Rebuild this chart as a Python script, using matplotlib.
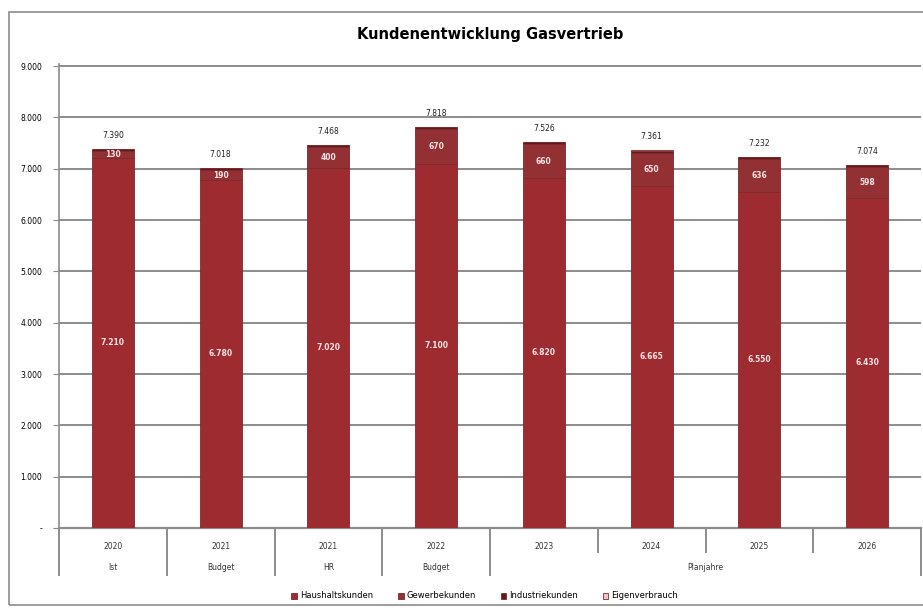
import matplotlib
matplotlib.use('Agg')
import matplotlib.pyplot as plt
import matplotlib.transforms as transforms
from matplotlib.patches import Rectangle
import numpy as np

# Kundenzahlen je Segment
jahre       = ["2020", "2021", "2021", "2022", "2023", "2024", "2025", "2026"]
art         = ["Ist", "Budget", "HR", "Budget"]
planLabel   = "Planjahre"
haushalt    = [7210, 6780, 7020, 7100, 6820, 6665, 6550, 6430]
gewerbe     = [130, 190, 400, 670, 660, 650, 636, 598]
industrie   = [40, 40, 40, 40, 38, 38, 38, 38]
eigen       = [10, 8, 8, 8, 8, 8, 8, 8]
serien      = ["Haushaltskunden", "Gewerbekunden", "Industriekunden", "Eigenverbrauch"]
farben      = ["#9E2B30", "#933034", "#5E1A1E", "#F2C4C6"]

def fmt(v):
    return "{:,}".format(int(v)).replace(",", ".")

fig = plt.figure(figsize=(9.23, 6.08), dpi=100)
ax  = fig.add_axes([59/923, 1-528/608, 862/923, (528-64)/608])

x = np.arange(len(jahre))
breite = 0.39
unten = np.zeros(len(jahre))
for werte, name, farbe in zip([haushalt, gewerbe, industrie, eigen], serien, farben):
    ax.bar(x, werte, breite, bottom=unten, color=farbe, label=name, zorder=3,
           edgecolor="#7E2A2C", linewidth=0.6)
    unten = unten + np.array(werte)

# Segmentbeschriftungen
for i in range(len(jahre)):
    ax.text(x[i], haushalt[i]/2, fmt(haushalt[i]), ha="center", va="center",
            fontsize=5.5, color="#FBE3E4", fontweight="bold", zorder=4)
    ax.text(x[i], haushalt[i] + gewerbe[i]/2, fmt(gewerbe[i]), ha="center", va="center",
            fontsize=5.5, color="#FBE3E4", fontweight="bold", zorder=4)
    ax.text(x[i], unten[i] + 260, fmt(unten[i]), ha="center", va="center",
            fontsize=5.5, color="#222222", zorder=4)

ax.set_xlim(-0.5, len(jahre)-0.5)
ax.set_ylim(0, 9040)
ax.set_yticks(np.arange(0, 9001, 1000))
ax.set_yticklabels(["-"] + [fmt(v) for v in range(1000, 9001, 1000)], fontsize=5.5)
ax.tick_params(axis="y", length=4, color="#888888", pad=8)
ax.yaxis.grid(True, color="#8C8C8C", linewidth=1.4, zorder=0)
for s in ["top", "right"]:
    ax.spines[s].set_visible(False)
ax.spines["left"].set_color("#8C8C8C")
ax.spines["bottom"].set_color("#8C8C8C")
ax.spines["left"].set_linewidth(1.2)
ax.spines["bottom"].set_linewidth(1.6)

ax.set_xticks(x)
ax.set_xticklabels(jahre, fontsize=5.5, color="#333333")
ax.tick_params(axis="x", length=0, pad=10)

# zweizeilige Kategorieachse
trans = transforms.blended_transform_factory(ax.transData, ax.transAxes)
for i, a in enumerate(art):
    ax.text(i, -0.085, a, transform=trans, ha="center", va="center", fontsize=5.5, color="#333333")
ax.text(5.5, -0.085, planLabel, transform=trans, ha="center", va="center", fontsize=5.5, color="#333333")
for b in np.arange(-0.5, len(jahre), 1.0):
    if b in (4.5, 5.5, 6.5):
        y_end = -0.052
    else:
        y_end = -0.102
    ax.plot([b, b], [0, y_end], transform=trans, color="#8C8C8C", linewidth=1.4, clip_on=False)

ax.set_title("Kundenentwicklung Gasvertrieb", fontsize=10.5, fontweight="bold", pad=18)

fig.legend(loc="lower center", bbox_to_anchor=(0.525, 0.0), ncol=4, fontsize=6, frameon=False,
           handlelength=0.7, handleheight=0.7, columnspacing=3.0, handletextpad=0.3)

# Rahmen um das Diagramm
fig.patches.append(Rectangle((9/923, 0.005), 0.995, 1-12/608-0.005, transform=fig.transFigure,
                             fill=False, edgecolor="#8C8C8C", linewidth=1.2))

plt.savefig("out.png", dpi=100)
